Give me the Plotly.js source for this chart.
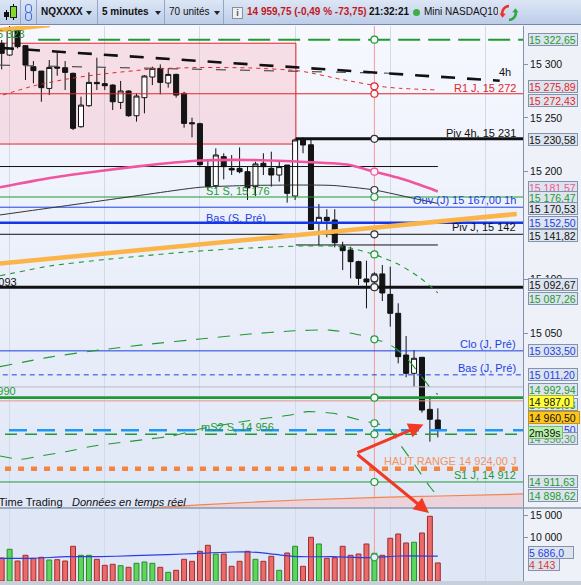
<!DOCTYPE html>
<html lang="fr">
<head>
<meta charset="utf-8">
<title>NQXXXX 5 minutes</title>
<script src="https://cdn.plot.ly/plotly-3.0.1.min.js"></script>
<style>
html,body{margin:0;padding:0;}
body{width:581px;height:585px;overflow:hidden;background:#eef2f8;font-family:"Liberation Sans",Arial,sans-serif;position:relative;}
#chart{position:absolute;left:0;top:0;width:581px;height:585px;}
#tb{position:absolute;left:0;top:0;width:581px;height:25px;background:linear-gradient(#dce6f5,#bdcde8);border-bottom:1px solid #7488ad;box-sizing:border-box;overflow:hidden;}
#tb .sep{position:absolute;top:0;width:1px;height:25px;background:#93a7c9;}
#tb .t{position:absolute;top:0;line-height:24px;font-size:10px;color:#111;white-space:nowrap;}
#tb .b{font-weight:bold;}
#tb .tri{position:absolute;top:11px;width:0;height:0;border-left:3.5px solid transparent;border-right:3.5px solid transparent;border-top:4px solid #222;}
#tb .bx{position:absolute;}
</style>
</head>
<body>
<div id="chart"></div>
<div id="tb">
  <div class="sep" style="left:20px"></div>
  <div class="sep" style="left:36px"></div>
  <div class="sep" style="left:97px"></div>
  <div class="sep" style="left:164px"></div>
  <div class="sep" style="left:223px"></div>
  <div class="bx" style="left:6px;top:10px;width:1px;height:10px;background:#000"></div>
  <div class="bx" style="left:4px;top:12px;width:5px;height:5px;background:#111"></div>
  <div class="bx" style="left:13px;top:4px;width:1px;height:16px;background:#000"></div>
  <div class="bx" style="left:10px;top:6px;width:5px;height:10px;background:#86d92c;border:1px solid #222"></div>
  <div class="bx" style="left:25px;top:4px;width:5px;height:7px;border:1.5px solid #3d6be0;border-radius:3px"></div>
  <div class="bx" style="left:25px;top:12px;width:5px;height:7px;border:1.5px solid #3d6be0;border-radius:3px"></div>
  <span class="t b" style="left:41px">NQXXXX</span><span class="tri" style="left:86px"></span>
  <span class="t b" style="left:102px">5 minutes</span><span class="tri" style="left:155px"></span>
  <span class="t" style="left:169px">70 unités</span><span class="tri" style="left:214px"></span>
  <div class="bx" style="left:232px;top:7px;width:9px;height:10px;background:#eef0f3;border:1px solid #8a8f98;font-size:9px;line-height:10px;text-align:center;color:#555;font-weight:bold">i</div>
  <span class="t b" style="left:247px;color:#c4161c">14 959,75 (-0,49 % -73,75)</span>
  <span class="t b" style="left:369px">21:32:21</span>
  <div class="bx" style="left:413px;top:9px;width:7px;height:7px;border-radius:50%;background:#3cb043"></div>
  <span class="t" style="left:424px;width:74px;overflow:hidden">Mini NASDAQ100</span>
  <svg style="position:absolute;left:499px;top:3px" width="20" height="20" viewBox="0 0 20 20">
    <path d="M10 3 A7 7 0 0 0 3.5 12" fill="none" stroke="#e8342a" stroke-width="2.5"/>
    <path d="M0.5 10.5 L3.5 14.8 L6.8 10.8 Z" fill="#e8342a"/>
    <path d="M10 17 A7 7 0 0 0 16.5 8" fill="none" stroke="#2fa844" stroke-width="2.5"/>
    <path d="M19.5 9.5 L16.5 5.2 L13.2 9.2 Z" fill="#2fa844"/>
  </svg>
</div>
<script>
// ---------------- DATA ----------------
// 5-minute candles (index 1 = oldest visible candle)
const candleOpen = [15319.3,15308.4,15331.7,15317.1,15297.6,15293.5,15277.4,15297.3,15296.6,15291.4,
  15241.8,15261.3,15283.0,15281.8,15280.5,15264.4,15275.0,15252.0,15268.8,15288.0,
  15296.0,15282.4,15290.4,15272.8,15245.5,15244.6,15204.7,15187.0,15214.0,15203.1,
  15203.1,15200.0,15186.1,15207.8,15203.1,15196.9,15206.2,15177.4,15230.8,15225.0,
  15152.6,15157.6,15155.1,15130.9,15127.2,15116.4,15100.3,15097.5,15105.0,15086.0,
  15068.4,15029.6,15012.6,15027.5,14979.1,14969.2];
const candleHigh = [15322.4,15335.4,15334.8,15317.7,15302.8,15293.5,15303.8,15310.9,15302.8,15292.0,
  15269.7,15292.3,15305.9,15296.0,15281.2,15284.3,15275.6,15272.8,15289.8,15297.6,
  15299.7,15296.0,15291.1,15274.3,15250.2,15245.5,15210.9,15221.7,15217.1,15215.5,
  15222.6,15204.7,15209.3,15217.1,15218.6,15210.3,15206.2,15231.0,15231.9,15230.4,
  15170.0,15165.1,15165.1,15134.9,15130.3,15117.3,15117.3,15106.5,15113.3,15111.7,
  15077.7,15047.3,15034.3,15027.5,14991.5,14980.1];
const candleLow = [15295.1,15307.8,15314.6,15285.2,15282.1,15265.0,15271.2,15289.2,15275.9,15238.7,
  15240.9,15260.4,15275.9,15275.9,15257.3,15258.2,15251.1,15246.5,15254.2,15280.5,
  15271.9,15278.1,15268.8,15240.9,15231.9,15205.0,15183.0,15184.5,15192.9,15196.9,
  15198.5,15173.7,15177.4,15196.9,15186.1,15190.7,15171.2,15173.7,15217.1,15145.8,
  15131.9,15139.0,15129.7,15108.6,15100.9,15094.7,15073.0,15090.0,15079.8,15056.0,
  15021.9,15008.9,15000.2,14976.1,14949.1,14953.1];
const candleClose = [15310.0,15332.6,15316.2,15299.1,15293.9,15278.1,15296.9,15296.3,15292.3,15240.3,
  15261.9,15283.0,15281.8,15279.9,15265.0,15275.0,15252.0,15270.3,15288.9,15296.0,
  15283.0,15290.4,15271.2,15244.9,15244.6,15206.5,15186.1,15215.5,15204.7,15201.6,
  15200.0,15185.0,15207.2,15204.7,15196.9,15204.7,15179.9,15229.5,15224.8,15146.3,
  15157.6,15154.5,15134.0,15126.6,15116.4,15100.9,15097.5,15105.0,15087.3,15068.4,
  15028.1,15012.6,15026.6,14978.5,14969.9,14959.75];
const volume = [5276,7272,4588,5896,5207,5437,4817,4886,4588,7960,
  5896,5896,4978,3602,3831,3510,3143,4060,4359,4060,
  3143,1996,2455,4978,4519,6813,8190,6194,6194,3372,
  4519,6813,4978,4519,5666,2455,6423,7960,3372,10025,
  8488,5207,5345,7960,5896,6194,8488,6354,5896,9795,
  10782,8717,8878,11011,14842,4143];
// volume moving average (read at a few positions)
const volMAx = [0.79,4.95,9.23,13.4,17.6,21.9,26.0,30.2,32.3,34.5,36.5,38.6,42.8,47.1,51.2,56.0];
const volMAy = [5207,5207,5574,5574,5804,6033,6354,6653,6653,6354,5896,5574,5574,5345,5735,5686];

// overlay curves (x in candle index, y in price)
const pinkMAx = [0.79,7.09,13.4,19.7,26.0,32.3,38.6,42.8,44.9,48.0,51.2,53.8,56.0];
const pinkMAy = [15185.5,15194.1,15200.7,15206.2,15210.4,15210.9,15209.3,15207.8,15206.2,15200.0,15193.9,15187.6,15181.6];
const grayMAx = [0.79,7.09,13.4,19.7,26.0,32.3,38.6,42.8,48.0,52.9,56.0];
const grayMAy = [15159.8,15166.3,15172.8,15179.3,15185.5,15187.2,15187.6,15187.2,15183.0,15175.3,15170.5];
const redDashX = [1.16,4.95,9.23,13.4,20.1,26.0,32.3,38.6,43.7,48.7,51.2,56.0];
const redDashY = [15271.3,15279.6,15286.1,15290.5,15295.4,15296.8,15296.4,15293.6,15286.0,15279.3,15277.5,15275.9];
const bandUpX = [0.79,7.09,13.4,24.7,32.3,38.6,42.8,44.9,48.0,51.2,53.8,56.0];
const bandUpY = [15103.3,15112.4,15117.9,15125.6,15129.1,15130.9,15130.9,15129.1,15123.1,15113.3,15101.2,15087.3];
const bandMidX = [0.79,7.09,13.4,19.7,26.0,32.3,37.4,42.4,46.2,48.0,49.3,50.8,52.5,53.8,55.4,56.0];
const bandMidY = [15018.8,15027.7,15034.3,15039.8,15044.5,15049.1,15051.9,15052.8,15048.2,15044.2,15041.7,15035.2,15023.1,15011.0,14996.2,14992.9];
const bandLowX = [0.79,3.31,5.83,9.23,12.6,16.0,19.4,22.5,26.4,32.3,37.4,39.5,42.8,46.2,48.0,49.6,51.2,53.1,55.0,56.0];
const bandLowY = [14935.8,14932.7,14935.8,14940.0,14945.1,14948.3,14951.4,14954.4,14961.5,14968.8,14973.9,14977.0,14975.5,14969.2,14966.2,14963.0,14946.9,14927.4,14907.2,14898.6];
const trend4hX = [0.79,63.8];
const trend4hY = [15315.1,15284.5];
const trendGrayX = [0.79,50.0];
const trendGrayY = [15299.0,15291.5];
const trendOrangeX = [0.79,65.95];
const trendOrangeY = [15114.7,15160.7];
const trendOrange2X = [0.79,7.09];
const trendOrange2Y = [15331.7,15336.3];
const orangeLowX = [19.7,26.0,38.6,48.7,56.3,66.74];
const orangeLowY = [14887.5,14890.3,14894.9,14897.4,14898.6,14900.5];

// horizontal levels
const levelPrice = [15322.65,15272.43,15230.58,15204.80,15176.47,15167.00,15152.50,15141.82,15131.90,15092.67,15033.50,15011.20,15000.00,14990.00,14987.00,14959.75,14956.00,14924.00,14911.63];
const levelFrom  = [5.6,0,38.1,0,0,0,0,0,38.1,0,0,0,0,0,0,1.92,1.42,1.42,0];
const levelTo    = [70,70,70,56.0,70,70,70,70,56.0,70,70,70,70,70,70,70,70,70,70];
// shaded zone
const zoneX = [0, 38.1];
const zonePrice = [15225.7, 15319.4];
// cursor
const cursorIdx = 48;
const cursorPrices = [15322.65,15279.3,15272.43,15230.58,15200.0,15183.0,15176.47,15141.82,15123.1,15100.9,15092.67,15044.2,14990.0,14966.2,14956.0,14911.63];
const cursorVol = 5420;

// line labels
const lineLabelText  = ['15 323','4h','R1 J, 15 272','Piv 4h, 15 231','S1 S, 15 176','Ouv (J) 15 167,00 1h','Bas (S, Pré)','Piv J, 15 142','15 093','Clo (J, Pré)','Bas (J, Pré)','14 990','mS2 S, 14 956','HAUT RANGE 14 924,00 J','S1 J, 14 912'];
const lineLabelIdx   = [4.07,65.35,65.98,65.98,26.64,65.98,26.64,65.98,3.06,65.98,65.98,2.93,26.0,65.98,65.98];
const lineLabelPrice = [15328.4,15292.9,15277.8,15235.7,15182.1,15173.7,15157.2,15148.3,15097.8,15039.6,15017.8,14996.5,14963.0,14931.4,14918.1];

// right-axis value boxes
const boxText  = ['15 322,65','15 275,89','15 272,43','15 230,58','15 181,57','15 176,47','15 170,53','15 152,50','15 141,82','15 092,67','15 087,26','15 033,50','15 011,20','14 992,94','14 988,93','14 987,0','14 959,50','14 956,30','14 960,50','2m39s','14 911,63','14 898,62','5 686,0','4 143'];
const boxValue = [15322.65,15275.89,15272.43,15230.58,15181.57,15176.47,15170.53,15152.50,15141.82,15092.67,15087.26,15033.50,15011.20,14992.94,14987.00,14987.00,14959.75,14956.30,14960.50,14959.75,14911.63,14898.62,5686,4143];
const boxAxis  = ['y','y','y','y','y','y','y','y','y','y','y','y','y','y','y','y','y','y','y','y','y','y','y2','y2'];

// ---------------- STYLE ----------------
const GREEN='#1f9a33', RED='#e2262a', BLUE='#1d3fe3', BLACK='#111111', PINK='#f0559e', ORANGE='#f5843c';
const N = candleOpen.length;
const idx = candleOpen.map((_, k) => k + 1);
const PD0 = 73/555;   // bottom of price pane (paper)
const FONT = 'Liberation Sans, Arial, sans-serif';

function ln(x, y, color, width, dash, shape, axis) {
  return {type:'scatter', mode:'lines', x:x, y:y, xaxis:'x', yaxis:axis||'y',
    line:{color:color, width:width, dash:dash||'solid', shape:shape||'linear', smoothing:0.6},
    hoverinfo:'skip', cliponaxis:true};
}

const traces = [];
// pink fill under the thin orange line
traces.push({type:'scatter', mode:'lines', x:orangeLowX, y:orangeLowX.map(() => 14870), line:{width:0, color:'rgba(0,0,0,0)'}, hoverinfo:'skip'});
traces.push({type:'scatter', mode:'lines', x:orangeLowX, y:orangeLowY, fill:'tonexty', fillcolor:'rgba(236,206,214,0.85)', line:{color:'#f4844a', width:1.2, shape:'spline'}, hoverinfo:'skip'});

const levelStyle = [
  [GREEN,2,'22px,8px'],[RED,1],[BLACK,3],[BLACK,1],[GREEN,1],[BLUE,1],['#1236e8',2.6],[BLACK,1],[BLACK,1],
  [BLACK,3],[BLUE,1],[BLUE,1,'5px,4px'],['#b6bdcb',1],[GREEN,2.6],['#ef8f8f',1],['#2196f3',2.6,'18px,10px'],
  [GREEN,1.5,'12px,8px'],[ORANGE,4.5,'6px,7px'],[GREEN,1]
];
levelPrice.forEach((p, k) => {
  const s = levelStyle[k];
  traces.push(ln([levelFrom[k], levelTo[k]], [p, p], s[0], s[1], s[2]));
});

traces.push(ln(trendGrayX, trendGrayY, '#555', 1.2, '10px,14px'));
traces.push(ln(trend4hX, trend4hY, BLACK, 2.6, '14px,12px'));
traces.push(ln(redDashX, redDashY, RED, 1, '4px,4px', 'spline'));
traces.push(ln(grayMAx, grayMAy, '#333', 1, 'solid', 'spline'));
traces.push(ln(pinkMAx, pinkMAy, PINK, 2.6, 'solid', 'spline'));
traces.push(ln(bandUpX, bandUpY, GREEN, 1.1, '5px,5px', 'spline'));
traces.push(ln(bandMidX, bandMidY, GREEN, 1.1, '12px,10px', 'spline'));
traces.push(ln(bandLowX, bandLowY, GREEN, 1.1, '12px,10px', 'spline'));
traces.push(ln(trendOrangeX, trendOrangeY, '#fbb448', 4.5));
traces.push(ln(trendOrange2X, trendOrange2Y, '#fbb448', 4.5));

traces.push({type:'candlestick', x:idx, open:candleOpen, high:candleHigh, low:candleLow, close:candleClose,
  xaxis:'x', yaxis:'y', whiskerwidth:0, hoverinfo:'skip',
  increasing:{line:{color:'#111', width:1}, fillcolor:'#ffffff'},
  decreasing:{line:{color:'#111', width:1}, fillcolor:'#151515'}});

const up = candleClose.map((c, k) => c >= candleOpen[k]);
traces.push({type:'bar', x:idx, y:volume, xaxis:'x', yaxis:'y2', width:0.62, hoverinfo:'skip',
  marker:{color:up.map(u => u ? '#5cd65c' : '#eb6a6a'), line:{color:up.map(u => u ? '#2a8a2a' : '#a52a2a'), width:1}}});
traces.push(ln(volMAx, volMAy, '#2a3ee6', 1.2, 'solid', 'spline', 'y2'));

const cursorColors = [GREEN,RED,RED,BLACK,PINK,BLACK,GREEN,BLACK,GREEN,BLACK,BLACK,GREEN,GREEN,GREEN,GREEN,GREEN];
traces.push({type:'scatter', mode:'markers', x:cursorPrices.map(() => cursorIdx), y:cursorPrices, hoverinfo:'skip',
  marker:{symbol:'circle', size:7, color:'#f4f6fb', line:{color:cursorColors.map(c => c === BLACK ? '#333' : c), width:1.2}}});
traces.push({type:'scatter', mode:'markers', x:[cursorIdx], y:[cursorVol], yaxis:'y2', hoverinfo:'skip',
  marker:{symbol:'circle', size:7, color:'#e8eefa', line:{color:'#3aa04a', width:1.4}}});

// ---------------- SHAPES ----------------
const shapes = [];
function hex(c){return [parseInt(c.slice(1,3),16),parseInt(c.slice(3,5),16),parseInt(c.slice(5,7),16)];}
const cTop = hex('#f6f8fe'), cBot = hex('#e0e7f6');
const NB = 24;
for (let k = 0; k < NB; k++) {
  const t = (k + 0.5) / NB;
  const c = cBot.map((v, j) => Math.round(v + (cTop[j] - v) * t));
  shapes.push({type:'rect', xref:'paper', yref:'paper', x0:0, x1:1,
    y0: PD0 + (1 - PD0) * k / NB, y1: PD0 + (1 - PD0) * (k + 1) / NB + 0.002,
    fillcolor:'rgb(' + c.join(',') + ')', line:{width:0}, layer:'below'});
}
shapes.push({type:'rect', xref:'paper', yref:'paper', x0:0, x1:1, y0:0, y1:PD0, fillcolor:'#dfe6f6', line:{width:0}, layer:'below'});
shapes.push({type:'rect', xref:'x', yref:'y', x0:zoneX[0], x1:zoneX[1], y0:zonePrice[0], y1:zonePrice[1],
  fillcolor:'rgba(250,150,165,0.26)', line:{color:'#e8202a', width:1}, layer:'between'});
shapes.push({type:'line', xref:'x', yref:'paper', x0:cursorIdx, x1:cursorIdx, y0:0, y1:1,
  line:{color:'#f39a9a', width:1}, layer:'between'});
shapes.push({type:'line', xref:'paper', yref:'paper', x0:0, x1:1.12, y0:PD0, y1:PD0, line:{color:'#8a9ab0', width:1.5}});
shapes.push({type:'rect', xref:'paper', yref:'paper', x0:0, x1:1.12, y0:-0.012, y1:0, fillcolor:'#c7cfdb', line:{width:0}});

// ---------------- ANNOTATIONS ----------------
const annotations = [];
const labelColor = [GREEN,BLACK,RED,BLACK,GREEN,BLUE,BLUE,BLACK,BLACK,BLUE,BLUE,GREEN,GREEN,'#f59360',GREEN];
const labelLeft = [false,false,false,false,true,false,true,false,false,false,false,false,true,false,false];
lineLabelText.forEach((t, k) => {
  annotations.push({text:t, x:lineLabelIdx[k], y:lineLabelPrice[k], xref:'x', yref:'y', showarrow:false,
    xanchor: labelLeft[k] ? 'left' : 'right', yanchor:'middle', borderpad:0,
    font:{family:FONT, size:11, color:labelColor[k]}});
});

const boxShift = [0,4,-6.5,-1,4,0,-5,0.5,-1.5,3,-5.5,0,0,4.5,-3.5,-1,1,-5,12,-2.5,0,0,3.5,-1.5];
const boxColor = [GREEN,RED,RED,BLACK,PINK,GREEN,BLACK,BLUE,BLACK,BLACK,GREEN,BLUE,BLUE,GREEN,GREEN,BLACK,BLUE,'#4f9a5f',BLACK,BLACK,GREEN,GREEN,BLUE,'#d9363a'];
const boxBg = boxText.map(() => '#dde4ee');
const boxBorder = boxText.map(() => '#8193ad');
const boxW = boxText.map(() => 48);
boxBg[15] = '#ffff3a'; boxBorder[15] = '#b0b040'; boxW[15] = 44;
boxBg[18] = '#ffc61a'; boxBorder[18] = '#c29120'; boxW[18] = 50;
boxBg[19] = '#b7f0a8'; boxBorder[19] = '#80b87a'; boxW[19] = 33;
boxW[22] = 44; boxW[23] = 30;
boxText.forEach((t, k) => {
  annotations.push({text:t, x:1, xref:'paper', y:boxValue[k], yref:boxAxis[k], xanchor:'left', yanchor:'middle',
    xshift:4.5, yshift:boxShift[k], showarrow:false, align:'left', width:boxW[k], height:11,
    bgcolor:boxBg[k], bordercolor:boxBorder[k], borderwidth:1, borderpad:0,
    font:{family:FONT, size:10.5, color:boxColor[k]}});
});

annotations.push({text:'ProRealTime Trading', x:8.98, y:14892.7, xref:'x', yref:'y', xanchor:'right', yanchor:'middle', showarrow:false,
  font:{family:FONT, size:11, color:'#111'}});
annotations.push({text:'<i>Données en temps réel</i>', x:9.61, y:14892.7, xref:'x', yref:'y', xanchor:'left', yanchor:'middle', showarrow:false,
  font:{family:FONT, size:11, color:'#111'}});

// red arrows
annotations.push({text:'', x:54.19, y:14965.0, xref:'x', yref:'y', ax:-67.5, ay:28.8, showarrow:true,
  arrowhead:2, arrowsize:1, arrowwidth:3, arrowcolor:'#f03a24', standoff:0});
annotations.push({text:'', x:54.88, y:15596, xref:'x', yref:'y2', ax:-73, ay:-59.7, showarrow:true,
  arrowhead:2, arrowsize:1, arrowwidth:3, arrowcolor:'#f03a24', standoff:0});

// ---------------- LAYOUT ----------------
const layout = {
  width:581, height:585,
  margin:{l:0, r:58, t:26, b:4, pad:0},
  paper_bgcolor:'#eef2f8', plot_bgcolor:'#eaeff9',
  showlegend:false, separators:', ',
  boxgap:0.37, boxgroupgap:0,
  font:{family:FONT, size:10.5, color:'#111'},
  xaxis:{range:[0.786, 66.74], showgrid:true, gridcolor:'#d1dae9', gridwidth:1, tick0:2, dtick:12,
    showticklabels:false, ticks:'', zeroline:false, showline:false, rangeslider:{visible:false}, fixedrange:true},
  yaxis:{domain:[PD0, 1], range:[14887.45, 15335.4], side:'right', showgrid:false, zeroline:false,
    tickvals:[15050, 15100, 15200, 15250, 15300], tickformat:',.0f', ticks:'outside', ticklen:4, tickcolor:'#8292a8',
    tickfont:{family:FONT, size:10.5, color:'#111'}, showline:true, linecolor:'#8292a8', linewidth:1, fixedrange:true},
  yaxis2:{domain:[0, PD0], range:[0, 16743], side:'right', showgrid:false, zeroline:false,
    tickvals:[10000, 15000], tickformat:',.0f', ticks:'outside', ticklen:4, tickcolor:'#8292a8',
    tickfont:{family:FONT, size:10.5, color:'#111'}, showline:true, linecolor:'#8292a8', linewidth:1, fixedrange:true},
  shapes:shapes, annotations:annotations
};

Plotly.newPlot('chart', traces, layout, {staticPlot:true, displayModeBar:false});
</script>
</body>
</html>
